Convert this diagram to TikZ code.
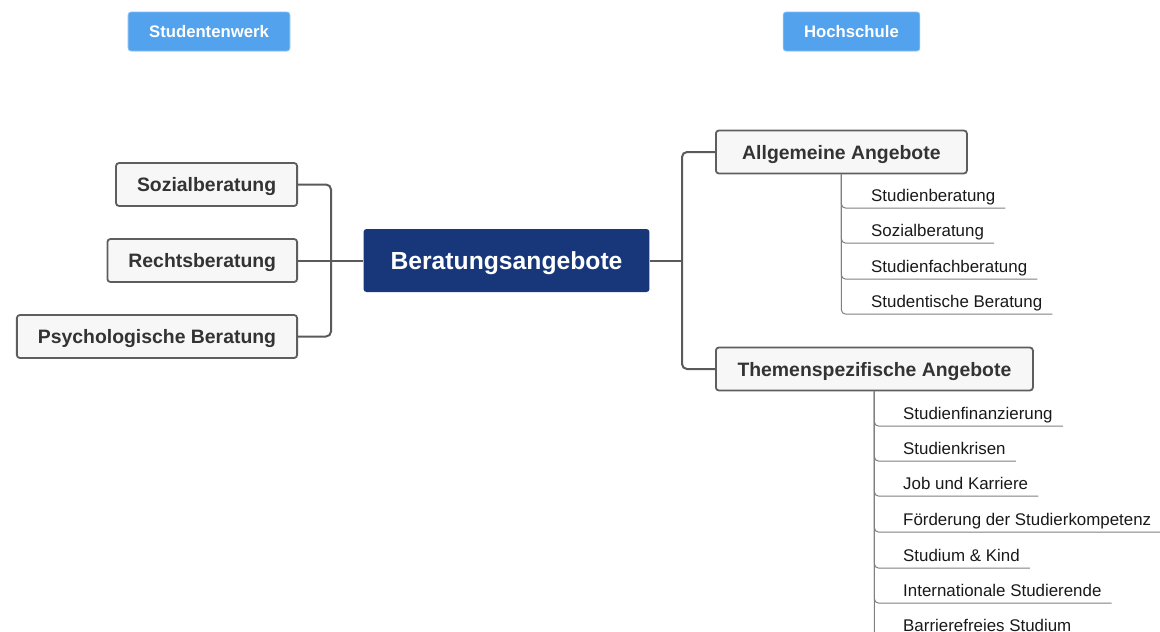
\documentclass[tikz,border=0pt]{standalone}
\usepackage{fontspec}
\setmainfont{Liberation Sans}
\usepackage{tikz}
\usetikzlibrary{calc}

\definecolor{headblue}{HTML}{52A2EE}
\definecolor{navy}{HTML}{17377A}
\definecolor{boxfill}{HTML}{F7F7F7}
\definecolor{boxline}{HTML}{5E5E5E}
\definecolor{conline}{HTML}{5A5A5A}
\definecolor{subline}{HTML}{808080}

\tikzset{
	headbox/.style={fill=headblue, draw=headblue!70!white, line width=0.8pt, rounded corners=3pt,
		text=white, inner xsep=21pt, minimum height=39pt, text depth=0pt,
		font=\fontsize{16.7}{20}\selectfont\bfseries},
	topicbox/.style={draw=boxline, line width=1.8pt, fill=boxfill, rounded corners=3pt,
		text=black!80, inner xsep=21pt, minimum height=43pt, text depth=0pt,
		font=\fontsize{19.4}{23}\selectfont\bfseries},
	rootbox/.style={fill=navy, rounded corners=3pt, text=white, inner xsep=27pt,
		minimum height=63pt, text depth=0pt, font=\fontsize{24.7}{29}\selectfont\bfseries},
	itembox/.style={anchor=south west, inner xsep=10pt, inner ysep=6pt, text depth=0pt,
		text=black!90, font=\fontsize{16.9}{20}\selectfont},
	con/.style={draw=conline, line width=2pt, rounded corners=5pt},
	sub/.style={draw=subline, line width=1pt, rounded corners=4pt}
}

\begin{document}
\begin{tikzpicture}[x=1pt,y=-1pt]
		%%%%% START %%%%%
		\useasboundingbox (0,0) rectangle (1160,632);
		
		% headings
		\node[headbox] (werk) at (209, 31.5) {Studentenwerk};
		\node[headbox] (hoch) at (851.5, 31.5) {Hochschule};
		
		% centre
		\node[rootbox] (zentrum) at (506.5, 260.5) {Beratungsangebote};
		
		% left side
		\node[topicbox, anchor=east] (sozial) at (298, 184.5) {Sozialberatung};
		\node[topicbox, anchor=east] (rechts) at (298, 260.5) {Rechtsberatung};
		\node[topicbox, anchor=east] (psych) at (298, 336.5) {Psychologische Beratung};
		\coordinate (knotL) at (331, 260.5);
		
		\draw[con] (sozial.east) -| (knotL) |- (psych.east);
		\draw[con] (rechts.east) -- (zentrum.west);
		
		% right side
		\node[topicbox, anchor=west, minimum width=251pt] (allg) at (715, 152) {Allgemeine Angebote};
		\node[topicbox, anchor=west, minimum width=317pt] (themen) at (715, 369) {Themenspezifische Angebote};
		\coordinate (knotR) at (682, 260.5);
		
		\draw[con] (zentrum.east) -- (knotR);
		\draw[con] (allg.west) -| (knotR) |- (themen.west);
		
		% Allgemeine Angebote
		\node[itembox] (a1) at (861, 208) {Studienberatung};
		\node[itembox] (a2) at (861, 243) {Sozialberatung};
		\node[itembox] (a3) at (861, 279) {Studienfachberatung};
		\node[itembox] (a4) at (861, 314) {Studentische Beratung};
		
		\draw[sub] (allg.south) |- (a1.south east);
		\draw[sub] (allg.south) |- (a2.south east);
		\draw[sub] (allg.south) |- (a3.south east);
		\draw[sub] (allg.south) |- (a4.south east);
		
		% Themenspezifische Angebote
		\node[itembox] (t1) at (893, 426) {Studienfinanzierung};
		\node[itembox] (t2) at (893, 461) {Studienkrisen};
		\node[itembox] (t3) at (893, 496) {Job und Karriere};
		\node[itembox] (t4) at (893, 532) {Förderung der Studierkompetenz};
		\node[itembox] (t5) at (893, 568) {Studium \& Kind};
		\node[itembox] (t6) at (893, 603) {Internationale Studierende};
		\node[itembox] (t7) at (893, 638) {Barrierefreies Studium};
		
		\draw[sub] (themen.south) |- (t1.south east);
		\draw[sub] (themen.south) |- (t2.south east);
		\draw[sub] (themen.south) |- (t3.south east);
		\draw[sub] (themen.south) |- (t4.south east);
		\draw[sub] (themen.south) |- (t5.south east);
		\draw[sub] (themen.south) |- (t6.south east);
		\draw[sub] (themen.south) |- (t7.south east);
		
		%%%%% END %%%%%
\end{tikzpicture}
\end{document}
